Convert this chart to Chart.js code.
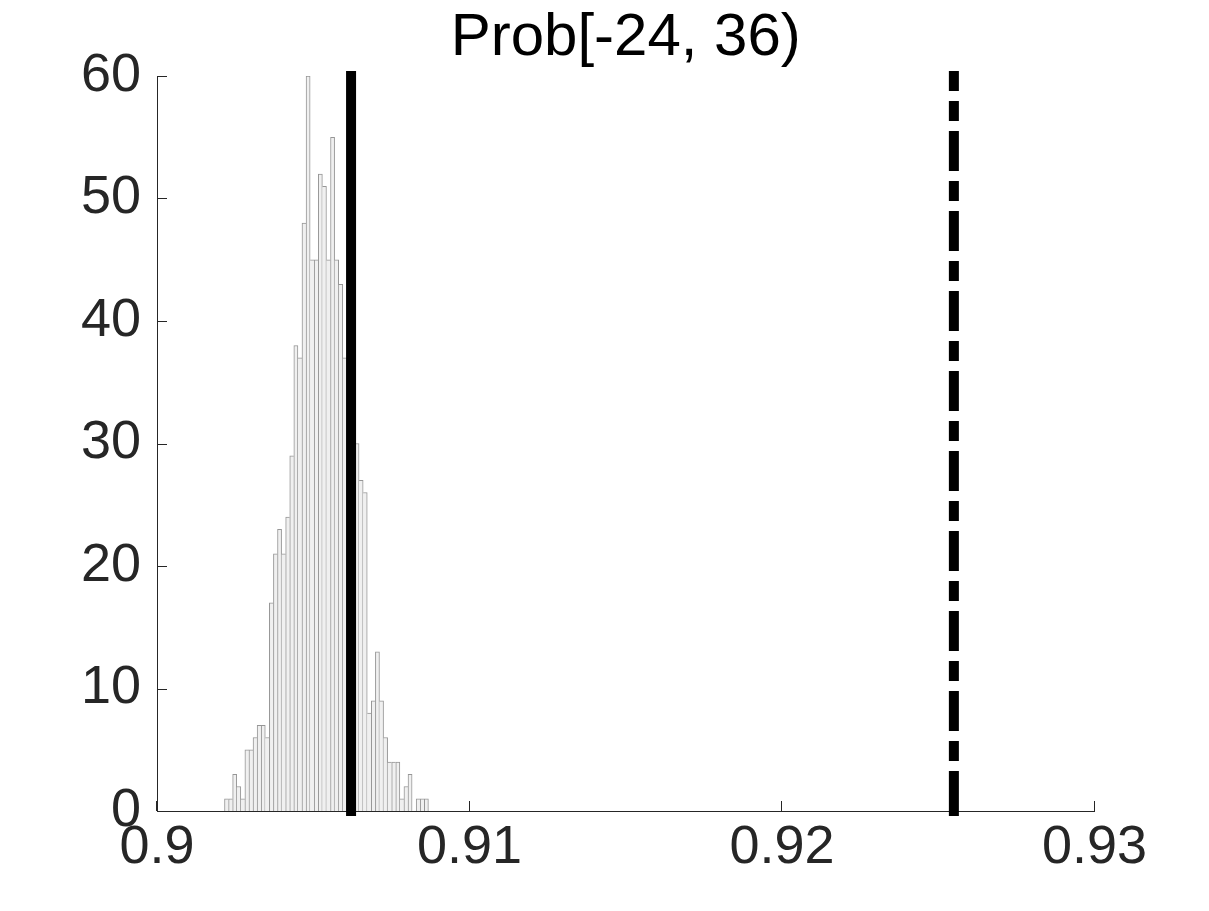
<!DOCTYPE html>
<html>
<head>
<meta charset="utf-8">
<script src="https://cdn.jsdelivr.net/npm/chart.js@4/dist/chart.umd.min.js"></script>
<style>
  html, body { margin: 0; padding: 0; background: #ffffff; }
  #c { display: block; }
</style>
</head>
<body>
<canvas id="c" width="1209" height="911"></canvas>
<script>
// ---- data ----
const titleText = 'Prob[-24, 36)';
const counts = [1,1,3,2,1,5,5,6,7,7,6,17,21,23,21,24,29,38,37,48,
                60,45,45,52,51,45,55,45,43,37,36,35,30,27,26,8,9,13,9,6,
                4,4,4,1,2,3,0,1,1,1];
const binStart = 0.90216;
const binWidth = 0.0001305;
const solidLineX = 0.90621;
const dashLineX = 0.9255;
const xTickValues = [0.9, 0.91, 0.92, 0.93];
const xTickLabels = ['0.9', '0.91', '0.92', '0.93'];
const yTickValues = [0, 10, 20, 30, 40, 50, 60];
const yTickLabels = ['0', '10', '20', '30', '40', '50', '60'];

const binCenters = counts.map((_, i) => binStart + binWidth * (i + 0.5));
const histData = counts.map((c, i) => ({ x: binCenters[i], y: c }));

const FONT = "'Liberation Sans', Arial, Helvetica, sans-serif";
const AXIS = '#262626';

// dash pattern of the dash-dot line (square caps add 5px to each dash)
const dashPattern = [35, 20, 10, 20];
for (let k = 0; k < 10; k++) dashPattern.push(30, 20, 10, 20);

const inwardTicks = {
  id: 'inwardTicks',
  afterDraw(chart) {
    const { ctx, scales: { x, y }, chartArea } = chart;
    ctx.save();
    ctx.strokeStyle = AXIS;
    ctx.lineWidth = 1;
    ctx.beginPath();
    xTickValues.forEach(v => {
      const px = Math.round(x.getPixelForValue(v)) - 0.5;
      ctx.moveTo(px, chartArea.bottom);
      ctx.lineTo(px, chartArea.bottom - 10);
    });
    yTickValues.forEach(v => {
      const py = Math.round(y.getPixelForValue(v)) + 0.5;
      ctx.moveTo(chartArea.left, py);
      ctx.lineTo(chartArea.left + 10, py);
    });
    ctx.stroke();
    ctx.restore();
  }
};

new Chart(document.getElementById('c'), {
  type: 'bar',
  data: {
    datasets: [
      {
        type: 'line',
        data: [{ x: solidLineX, y: 0 }, { x: solidLineX, y: 60 }],
        borderColor: '#000000',
        borderWidth: 10,
        borderCapStyle: 'square',
        pointRadius: 0,
        clip: false,
        order: 0
      },
      {
        type: 'line',
        data: [{ x: dashLineX, y: 0 }, { x: dashLineX, y: 60 }],
        borderColor: '#000000',
        borderWidth: 10,
        borderCapStyle: 'square',
        borderDash: dashPattern,
        pointRadius: 0,
        clip: false,
        order: 1
      },
      {
        type: 'bar',
        data: histData,
        backgroundColor: 'rgb(240,240,240)',
        borderColor: 'rgb(150,150,150)',
        borderWidth: (ctx) => {
          const i = ctx.dataIndex;
          const c = counts[i];
          const prev = i > 0 ? counts[i - 1] : 0;
          const next = i < counts.length - 1 ? counts[i + 1] : 0;
          return { top: 1, left: prev <= c ? 1 : 0, right: next < c ? 1 : 0, bottom: 0 };
        },
        borderSkipped: false,
        barPercentage: 1,
        categoryPercentage: 1,
        grouped: false,
        order: 2
      }
    ]
  },
  options: {
    responsive: false,
    animation: false,
    events: [],
    layout: { padding: { left: 0, right: 114.5, top: 0, bottom: 0 } },
    plugins: {
      legend: { display: false },
      tooltip: { enabled: false },
      title: {
        display: true,
        fullSize: false,
        text: titleText,
        color: '#000000',
        font: { family: FONT, size: 60, weight: 'normal', lineHeight: 1.2 },
        padding: { top: 2, bottom: 2 }
      }
    },
    scales: {
      x: {
        type: 'linear',
        min: 0.9,
        max: 0.93,
        offset: false,
        afterBuildTicks: (s) => { s.ticks = xTickValues.map(v => ({ value: v })); },
        afterFit: (s) => { s.height = 100; },
        grid: { display: false, drawTicks: false, offset: false },
        border: { display: true, color: AXIS, width: 1 },
        ticks: {
          color: AXIS,
          font: { family: FONT, size: 54 },
          padding: 5,
          maxRotation: 0,
          autoSkip: false,
          callback: (v, i) => xTickLabels[i]
        }
      },
      y: {
        type: 'linear',
        min: 0,
        max: 60,
        afterBuildTicks: (s) => { s.ticks = yTickValues.map(v => ({ value: v })); },
        afterFit: (s) => { s.width = 157; },
        grid: { display: false, drawTicks: false },
        border: { display: true, color: AXIS, width: 1 },
        ticks: {
          color: AXIS,
          font: { family: FONT, size: 54 },
          padding: 16,
          autoSkip: false,
          callback: (v, i) => yTickLabels[i]
        }
      }
    }
  },
  plugins: [inwardTicks]
});
</script>
</body>
</html>
